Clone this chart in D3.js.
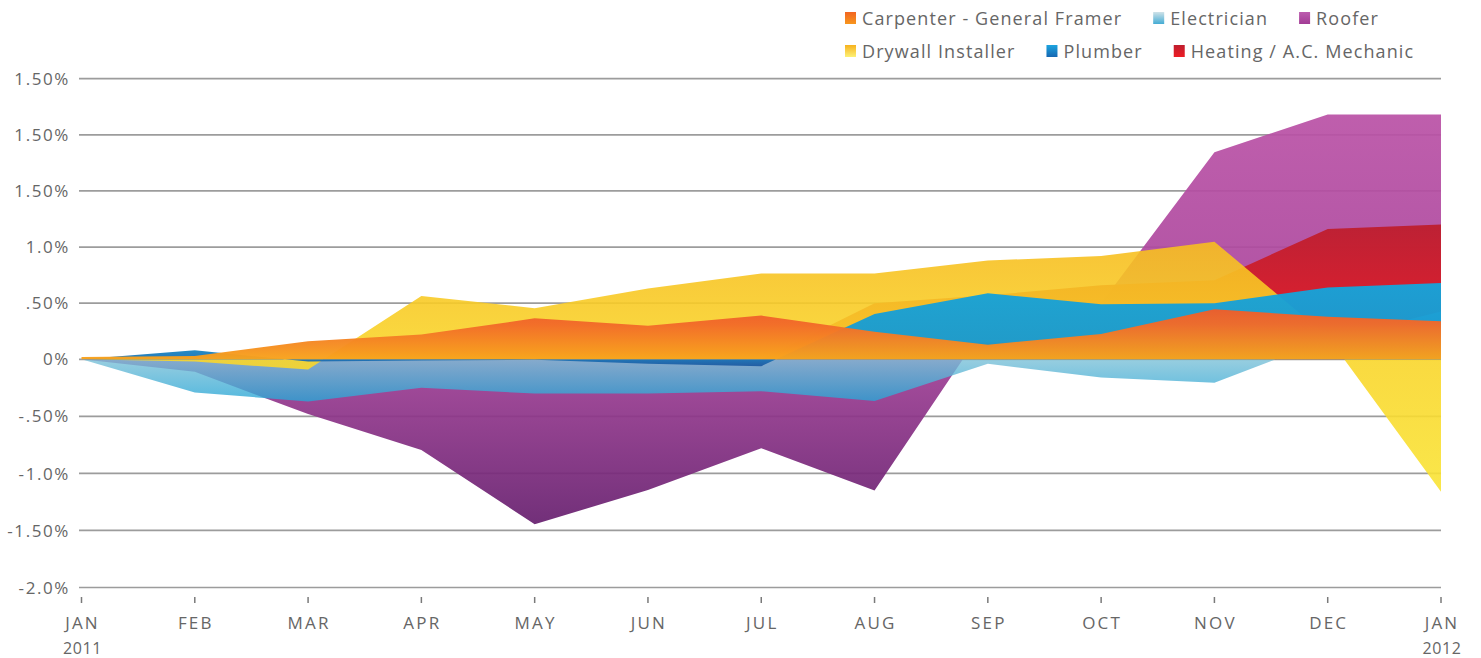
<!DOCTYPE html>
<meta charset="utf-8">
<style>
body { margin: 0; background: #fff; }
text { font-family: "Open Sans", "DejaVu Sans", sans-serif; fill: #666; }
.grid line { stroke: #9c9c9c; stroke-width: 1.7px; }
.tick-mark { stroke: #7a7a7a; stroke-width: 1.5px; }
</style>
<svg width="1481" height="658"></svg>
<script src="https://cdn.jsdelivr.net/npm/d3@7"></script>
<script>

var months = ["JAN","FEB","MAR","APR","MAY","JUN","JUL","AUG","SEP","OCT","NOV","DEC","JAN"];
var years = ["2011","","","","","","","","","","","","2012"];

var yTicks = [2.5, 2.0, 1.5, 1.0, 0.5, 0, -0.5, -1.0, -1.5, -2.0];
var yTickLabels = ["1.50%","1.50%","1.50%","1.0%",".50%","0%","-.50%","-1.0%","-1.50%","-2.0%"];

// percent change per month
var carpenter   = [0.02, 0.03, 0.16, 0.22, 0.365, 0.30, 0.39, 0.245, 0.13, 0.225, 0.445, 0.38, 0.34];
var electrician = [0, -0.29, -0.37, -0.25, -0.30, -0.30, -0.28, -0.365, -0.04, -0.16, -0.205, 0.175, 0.425];
var roofer      = [0, -0.11, -0.48, -0.795, -1.446, -1.145, -0.78, -1.15, 0.33, 0.5, 1.845, 2.18, 2.18];
var drywall     = [0, -0.02, -0.09, 0.565, 0.455, 0.63, 0.765, 0.765, 0.88, 0.92, 1.048, 0.2, -1.16];
var plumber     = [0, 0.08, -0.02, -0.01, -0.005, -0.04, -0.06, 0.404, 0.588, 0.49, 0.50, 0.64, 0.68];
var heating     = [0, 0, 0, 0, 0, 0, 0, 0.5, 0.57, 0.66, 0.705, 1.16, 1.2];

var series = [
  {id: "roofer", name: "Roofer", values: roofer, opacity: 0.93,
   stops: [[0, "#ba52a6"], [0.55, "#a8449b"], [1, "#67206f"]],
   key: ["#bc5cae", "#a23c95"]},
  {id: "heating", name: "Heating / A.C. Mechanic", values: heating, opacity: 0.95,
   stops: [[0, "#bd1e2e"], [1, "#ee1c25"]],
   key: ["#bf1e2e", "#ed1c24"]},
  {id: "electrician", name: "Electrician", values: electrician, opacity: 0.8,
   stops: [[0, "#a2d2de"], [0.45, "#8dc6d8"], [1, "#27a6d6"]],
   key: ["#cfe2e8", "#44acd4"]},
  {id: "drywall", name: "Drywall Installer", values: drywall, opacity: 0.9,
   stops: [[0, "#f7bd20"], [0.4, "#f9d42a"], [1, "#f9e436"]],
   key: ["#f7b21e", "#fdf176"]},
  {id: "plumber", name: "Plumber", values: plumber, opacity: 0.96,
   stops: [[0, "#16a4da"], [0.7, "#189ad0"], [0.93, "#1d70b3"], [1, "#1f5ba2"]],
   key: ["#1ca4df", "#1667b2"]},
  {id: "carpenter", name: "Carpenter - General Framer", values: carpenter, opacity: 0.97,
   stops: [[0, "#ee5d2a"], [0.3, "#f26b29"], [1, "#f8a41c"]],
   key: ["#f26522", "#f7961d"]}
];

var legendRows = [
  ["carpenter", "electrician", "roofer"],
  ["drywall", "plumber", "heating"]
];

var svg = d3.select("svg");

var x = d3.scaleLinear().domain([0, months.length - 1]).range([81.5, 1441]);
var y = d3.scaleLinear().domain([-2, 0, 2.5]).range([587.5, 359.3, 78.7]);

var defs = svg.append("defs");

series.forEach(function(s) {
  var g = defs.append("linearGradient")
      .attr("id", "fill-" + s.id)
      .attr("x1", 0).attr("y1", 0).attr("x2", 0).attr("y2", 1);
  s.stops.forEach(function(st) {
    g.append("stop").attr("offset", st[0]).attr("stop-color", st[1]);
  });
  var k = defs.append("linearGradient")
      .attr("id", "key-" + s.id)
      .attr("x1", 0).attr("y1", 0).attr("x2", 0).attr("y2", 1);
  k.append("stop").attr("offset", 0).attr("stop-color", s.key[0]);
  k.append("stop").attr("offset", 1).attr("stop-color", s.key[1]);
});

// grid
svg.append("g")
    .attr("class", "grid")
  .selectAll("line")
  .data(yTicks)
  .enter().append("line")
    .attr("x1", 79)
    .attr("x2", 1441)
    .attr("y1", function(d) { return y(d); })
    .attr("y2", function(d) { return y(d); });

// y labels
svg.append("g")
  .selectAll("text")
  .data(yTicks)
  .enter().append("text")
    .attr("x", 70)
    .attr("y", function(d) { return y(d); })
    .attr("dy", "0.36em")
    .attr("text-anchor", "end")
    .style("font-size", "17px")
    .style("letter-spacing", "1.6px")
    .text(function(d, i) { return yTickLabels[i]; });

// areas, back to front
var area = d3.area()
    .x(function(d, i) { return x(i); })
    .y0(y(0))
    .y1(function(d) { return y(d); });

svg.append("g")
  .selectAll("path")
  .data(series)
  .enter().append("path")
    .attr("d", function(d) { return area(d.values); })
    .attr("fill", function(d) { return "url(#fill-" + d.id + ")"; })
    .attr("fill-opacity", function(d) { return d.opacity; });

// x axis
var xAxis = svg.append("g");

xAxis.selectAll("line")
  .data(months)
  .enter().append("line")
    .attr("class", "tick-mark")
    .attr("x1", function(d, i) { return x(i); })
    .attr("x2", function(d, i) { return x(i); })
    .attr("y1", 597)
    .attr("y2", 603);

xAxis.selectAll("text.month")
  .data(months)
  .enter().append("text")
    .attr("class", "month")
    .attr("x", function(d, i) { return x(i) + 1; })
    .attr("y", 628.5)
    .attr("text-anchor", "middle")
    .style("font-size", "17px")
    .style("letter-spacing", "2.2px")
    .text(function(d) { return d; });

xAxis.selectAll("text.year")
  .data(years)
  .enter().append("text")
    .attr("class", "year")
    .attr("x", function(d, i) { return x(i) + 1; })
    .attr("y", 654)
    .attr("text-anchor", "middle")
    .style("font-size", "16px")
    .style("letter-spacing", "0.6px")
    .text(function(d) { return d; });

// legend
var byId = {};
series.forEach(function(s) { byId[s.id] = s; });

legendRows.forEach(function(row, r) {
  var cy = 18 + r * 33,
      cx = 845;
  row.forEach(function(id) {
    var s = byId[id];
    var item = svg.append("g").attr("transform", "translate(" + cx + "," + cy + ")");
    item.append("rect")
        .attr("x", 0)
        .attr("y", -6)
        .attr("width", 11)
        .attr("height", 12)
        .attr("fill", "url(#key-" + s.id + ")");
    var t = item.append("text")
        .attr("x", 17)
        .attr("y", 6.5)
        .style("font-size", "18px")
        .style("letter-spacing", "1.1px")
        .text(s.name);
    cx += 17 + t.node().getComputedTextLength() + 31;
  });
});

</script>
